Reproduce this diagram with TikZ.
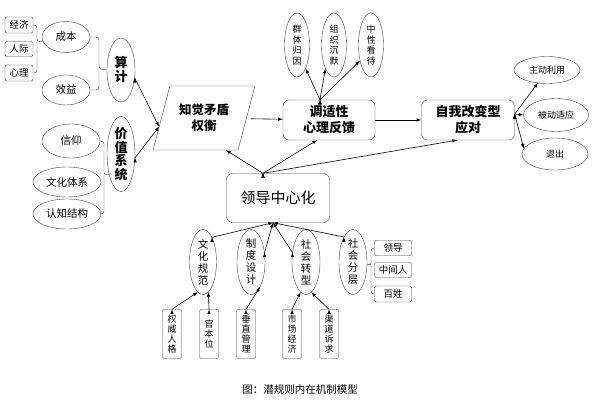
\documentclass[tikz,border=0pt]{standalone}
\usepackage{fontspec}
\setmainfont{Noto Sans CJK SC}
\usetikzlibrary{shapes.geometric}

\begin{document}
\begin{tikzpicture}[x=1pt,y=-1pt]
        \tikzstyle{box_style} = [draw=black!75, rounded corners=2pt, inner sep=0pt, font=\fontsize{9.5}{10}\selectfont]
        \tikzstyle{vbox_style} = [box_style, align=center, minimum width=19, minimum height=49, font=\fontsize{9}{10}\selectfont]
        \tikzstyle{ell_style} = [ellipse, draw=black!75, inner sep=0pt, font=\fontsize{10.5}{12}\selectfont]
        \tikzstyle{vell_style} = [ell_style, align=center, minimum width=28, minimum height=65]
        \tikzstyle{main_style} = [draw=black!75, rounded corners=6pt, align=center, font=\fontsize{13}{16}\selectfont\bfseries]
        \tikzstyle{edge_style} = [draw=black, line width=0.6pt, -latex]
        \tikzstyle{brace_style} = [draw=black!75, rounded corners=3pt]
        \useasboundingbox (0,0) rectangle (600,406);
        % left side
        \node[box_style, minimum width=28, minimum height=16] (v1) at (19,25) {经济};
        \node[box_style, minimum width=28, minimum height=15] (v2) at (19,49) {人际};
        \node[box_style, minimum width=28, minimum height=16] (v3) at (19,73) {心理};
        \node[ell_style, minimum width=48, minimum height=31] (v4) at (66,37) {成本};
        \node[ell_style, minimum width=48, minimum height=30] (v5) at (66,90) {效益};
        \node[vell_style, minimum height=64, font=\fontsize{13}{14}\selectfont\bfseries] (v6) at (121,70) {算\\计};
        \node[vell_style, minimum height=72, font=\fontsize{13}{13.5}\selectfont\bfseries] (v7) at (121,154) {价\\值\\系\\统};
        \node[ell_style, minimum width=58, minimum height=34] (v8) at (71,141) {信仰};
        \node[ell_style, minimum width=68, minimum height=30] (v9) at (67,182) {文化体系};
        \node[ell_style, minimum width=68, minimum height=30] (v10) at (67,214) {认知结构};
        % middle row
        \node[trapezium, trapezium left angle=68, trapezium right angle=112, trapezium stretches=true,
              draw=black!75, minimum width=102, minimum height=64, align=center,
              font=\fontsize{12.5}{16}\selectfont\bfseries] (v11) at (204,118) {知觉矛盾\\权衡};
        \node[main_style, minimum width=92, minimum height=40] (v12) at (329,120) {调适性\\心理反馈};
        \node[vell_style, minimum width=25, minimum height=64, font=\fontsize{9}{10.5}\selectfont] (v13) at (297,45) {群\\体\\归\\因};
        \node[vell_style, minimum width=25, minimum height=64, font=\fontsize{9}{10.5}\selectfont] (v14) at (334,45) {组\\织\\沉\\默};
        \node[vell_style, minimum width=25, minimum height=64, font=\fontsize{9}{10.5}\selectfont] (v15) at (371,45) {中\\性\\看\\待};
        \node[main_style, minimum width=93, minimum height=40] (v16) at (468,120) {自我改变型\\应对};
        \node[ell_style, minimum width=66, minimum height=27, font=\fontsize{9}{10}\selectfont] (v17) at (547,70) {主动利用};
        \node[ell_style, minimum width=65, minimum height=33, font=\fontsize{9}{10}\selectfont] (v18) at (556,115) {被动适应};
        \node[ell_style, minimum width=66, minimum height=32, font=\fontsize{9}{10}\selectfont] (v19) at (555,154) {退出};
        % lower part
        \node[main_style, minimum width=103, minimum height=49, font=\fontsize{15}{16}\selectfont] (v20) at (278,198) {领导中心化};
        \node[vell_style, minimum width=27] (v21) at (203,262) {文\\化\\规\\范};
        \node[vell_style] (v22) at (251,262) {制\\度\\设\\计};
        \node[vell_style] (v23) at (306,262) {社\\会\\转\\型};
        \node[vell_style] (v24) at (353,262) {社\\会\\分\\层};
        \node[box_style, minimum width=37, minimum height=15] (v25) at (393,248) {领导};
        \node[box_style, minimum width=37, minimum height=15] (v26) at (393,270) {中间人};
        \node[box_style, minimum width=37, minimum height=16] (v27) at (393,294) {百姓};
        \node[vbox_style] (v28) at (172,334) {权\\威\\人\\格};
        \node[vbox_style] (v29) at (209,334) {官\\本\\位};
        \node[vbox_style] (v30) at (246,334) {垂\\直\\管\\理};
        \node[vbox_style] (v31) at (292,334) {市\\场\\经\\济};
        \node[vbox_style] (v32) at (329,334) {渠\\道\\诉\\求};
        \node[font=\fontsize{10.5}{12}\selectfont] (v33) at (300,390) {图：潜规则内在机制模型};
        % braces
        \draw[brace_style] (v1.east) -| (37,42) -- (v4.-170);
        \draw[brace_style] (v3.east) -| (37,42);
        \draw[brace_style] (v4.east) -| (99,69) -- (v6.west);
        \draw[brace_style] (v5.east) -| (99,69);
        \draw[brace_style] (v8.east) -| (104,175) -- (v7.-120);
        \draw[brace_style] (v10.east) -| (104,175);
        \draw[brace_style] (v25.west) -| (371,266) -- (v24.-8);
        \draw[brace_style] (v27.west) -| (371,266);
        % arrows
        \draw[edge_style]  (v6.-30) edge (v11.191);
        \draw[edge_style]  (v7.-15) edge (v11.191);
        \draw[edge_style, shorten <=4pt]  (v11) edge (v12);
        \draw[edge_style]  (v12) edge (v16);
        \draw[edge_style]  ([xshift=-9]v12.north) edge (v13.-70);
        \draw[edge_style]  ([xshift=-9]v12.north) edge (v14.-110);
        \draw[edge_style]  ([xshift=-9]v12.north) edge (v15.-125);
        \draw[edge_style]  ([yshift=6]v16.east) edge (v17.-125);
        \draw[edge_style]  ([yshift=6]v16.east) edge (v18.west);
        \draw[edge_style]  ([yshift=6]v16.east) edge (v19.170);
        \draw[edge_style]  ([xshift=-15]v20.north) edge ([xshift=22]v11.south);
        \draw[edge_style]  ([xshift=-15]v20.north) edge ([xshift=-12]v12.south);
        \draw[edge_style]  ([xshift=-15]v20.north) edge ([xshift=-11]v16.south);
        \draw[edge_style]  (v21.70) edge ([xshift=-5]v20.south);
        \draw[edge_style]  (v22.35) edge ([xshift=-5]v20.south);
        \draw[edge_style]  (v23.145) edge ([xshift=-5]v20.south);
        \draw[edge_style]  (v24.110) edge ([xshift=-5]v20.south);
        \draw[edge_style]  (v28.north) edge (v21.-100);
        \draw[edge_style]  (v29.north) edge (v21.-80);
        \draw[edge_style]  (v30.north) edge (v22.-70);
        \draw[edge_style]  (v31.north) edge (v23.-100);
        \draw[edge_style]  (v32.north) edge (v23.-80);
\end{tikzpicture}
\end{document}
